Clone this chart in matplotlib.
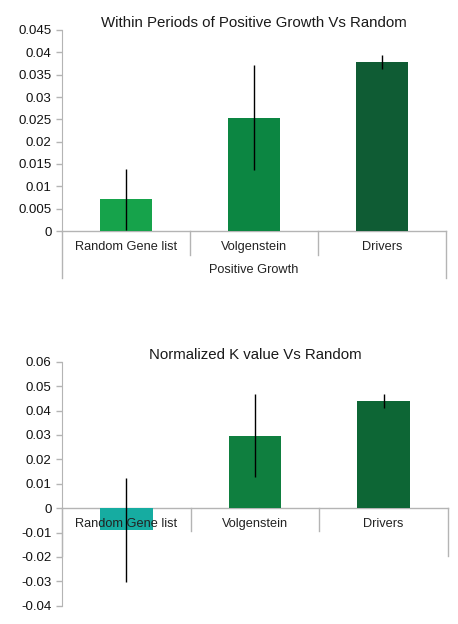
import numpy as np
import matplotlib.pyplot as plt
from matplotlib.transforms import blended_transform_factory, offset_copy
from matplotlib.ticker import FuncFormatter, MultipleLocator

plt.rcParams['font.family'] = ['Liberation Sans', 'DejaVu Sans']

# Data
categories = ['Random Gene list', 'Volgenstein', 'Drivers']

growth_values = [0.0071, 0.0254, 0.0378]
growth_errors = [0.0068, 0.0118, 0.0015]
growth_colors = ['#16a34b', '#0c8642', '#0f5c34']

k_values = [-0.0090, 0.0297, 0.0440]
k_errors = [0.0213, 0.0169, 0.0029]
k_colors = ['#16aca1', '#0f7f3f', '#0d6635']

grid_gray = '#b4b4b4'

fig = plt.figure(figsize=(4.58, 6.24), dpi=100)
W, H = 458, 624


def category_axis(ax, sep_len, outer_len, group_label=None):
    # draw excel-like category axis with separators below the zero line
    x = np.arange(len(categories))
    ax.axhline(0, color=grid_gray, lw=1, zorder=1, clip_on=False)
    h_px = ax.get_position().height * H
    tr = blended_transform_factory(ax.transData, ax.transAxes)
    y0 = (0 - ax.get_ylim()[0]) / (ax.get_ylim()[1] - ax.get_ylim()[0])
    edges = np.arange(len(categories) + 1) - 0.5
    for i, e in enumerate(edges):
        length = outer_len if i in (0, len(edges) - 1) else sep_len
        if length == 0:
            continue
        ax.plot([e, e], [y0, y0 - length / h_px], color=grid_gray, lw=1,
                transform=tr, clip_on=False)
    lab_tr = offset_copy(ax.transData, fig=fig, x=0, y=-16, units='dots')
    for xi, c in zip(x, categories):
        ax.text(xi, 0, c, transform=lab_tr, ha='center', va='center',
                fontsize=9.2, color='#222222')
    if group_label:
        g_tr = offset_copy(ax.transData, fig=fig, x=0, y=-39, units='dots')
        ax.text(1, 0, group_label, transform=g_tr, ha='center', va='center',
                fontsize=9.2, color='#222222')


def style(ax, title, ylim, step, pad):
    ax.set_xlim(-0.5, 2.5)
    ax.set_ylim(*ylim)
    ax.yaxis.set_major_locator(MultipleLocator(step))
    ax.yaxis.set_major_formatter(FuncFormatter(lambda v, p: '%g' % round(v, 4)))
    for s in ['top', 'right', 'bottom']:
        ax.spines[s].set_visible(False)
    ax.spines['left'].set_color(grid_gray)
    ax.tick_params(axis='y', colors=grid_gray, labelcolor='#111111',
                   labelsize=9.5, length=4, width=1)
    ax.set_xticks([])
    ax.set_title(title, fontsize=10.8, color='#1a1a1a', pad=pad)


# top chart
ax1 = fig.add_axes([62 / W, 1 - 231 / H, 384 / W, 201 / H])
x = np.arange(len(categories))
ax1.bar(x, growth_values, width=0.41, color=growth_colors, zorder=2)
ax1.errorbar(x, growth_values, yerr=growth_errors, fmt='none', ecolor='black',
             elinewidth=1, capsize=0, zorder=3)
style(ax1, 'Within Periods of Positive Growth Vs Random', (0, 0.045), 0.005, 2)
category_axis(ax1, 24, 47, 'Positive Growth')

# bottom chart
ax2 = fig.add_axes([62 / W, 1 - 605.7 / H, 386 / W, 244 / H])
ax2.bar(x, k_values, width=0.41, color=k_colors, zorder=2)
ax2.errorbar(x, k_values, yerr=k_errors, fmt='none', ecolor='black',
             elinewidth=1, capsize=0, zorder=3)
style(ax2, 'Normalized K value Vs Random', (-0.04, 0.06), 0.01, 0.5)
category_axis(ax2, 23, 48)

fig.savefig('out.png', dpi=100)
